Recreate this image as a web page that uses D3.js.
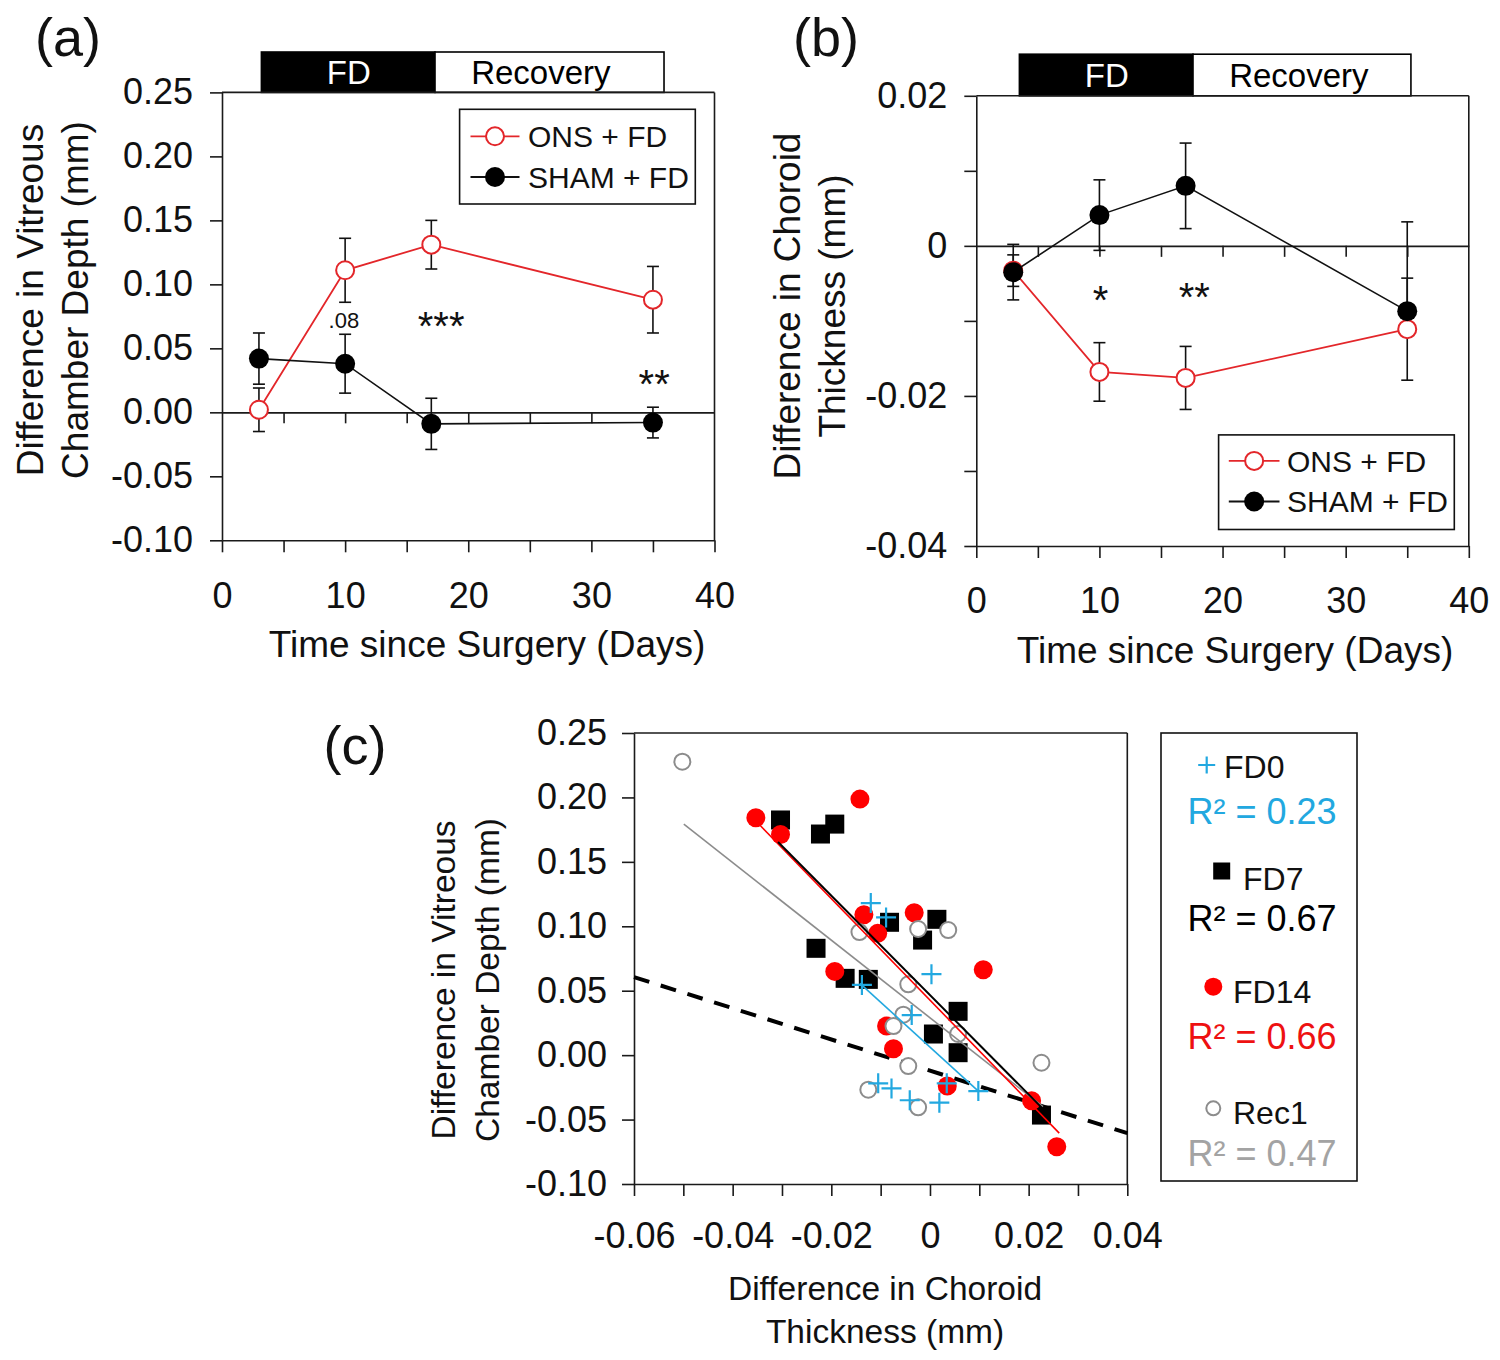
<!DOCTYPE html>
<html><head><meta charset="utf-8">
<script src="https://cdn.jsdelivr.net/npm/d3@7"></script>
<style>body{margin:0;background:#fff}svg{display:block}text{font-family:'Liberation Sans',Arial,Helvetica,sans-serif}</style>
</head><body><svg id="chart" width="1500" height="1360"></svg>
<script>
// ---------------- DATA ----------------
const days = [3, 10, 17, 35];
// (a) vitreous chamber depth difference (mm)
const vcdOns = [0.002, 0.111, 0.131, 0.088];
const vcdOnsErr = [0.017, 0.025, 0.019, 0.026];
const vcdSham = [0.042, 0.038, -0.009, -0.008];
const vcdShamErr = [0.020, 0.023, 0.020, 0.012];
// (b) choroid thickness difference (mm)
const chOns = [-0.0033, -0.0168, -0.0176, -0.0111];
const chOnsErr = [0.0021, 0.0039, 0.0042, 0.0068];
const chSham = [-0.0035, 0.0041, 0.0080, -0.0087];
const chShamErrUp = [0.0037, 0.0047, 0.0057, 0.0119];
const chShamErrDown = [0.0037, 0.0047, 0.0057, 0];

const seriesNames = ["ONS + FD", "SHAM + FD"];
const phasesA = [{label: "FD", start: 3.2, end: 17.3, textAt: 10.3}, {label: "Recovery", start: 17.3, end: 35.9, textAt: 25.9}];
const phasesB = [{label: "FD", start: 3.5, end: 17.6, textAt: 10.6}, {label: "Recovery", start: 17.6, end: 35.3, textAt: 26.2}];
const annotA = [{text: ".08", day: 9.9, value: 0.072, small: true}, {text: "***", day: 17.8, value: 0.074}, {text: "**", day: 35.1, value: 0.029}];
const annotB = [{text: "*", day: 10.1, value: -0.0060}, {text: "**", day: 17.7, value: -0.0056}];

const timeTicks = [0, 5, 10, 15, 20, 25, 30, 35, 40];
const timeTickLabels = ["0", "", "10", "", "20", "", "30", "", "40"];
const zeroLineTicks = [5, 10, 15, 20, 25, 30, 35];
const vcdTicks = [-0.10, -0.05, 0.00, 0.05, 0.10, 0.15, 0.20, 0.25];
const vcdTickLabels = ["-0.10", "-0.05", "0.00", "0.05", "0.10", "0.15", "0.20", "0.25"];
const chTicks = [-0.04, -0.03, -0.02, -0.01, 0, 0.01, 0.02];
const chTickLabels = ["-0.04", "", "-0.02", "", "0", "", "0.02"];
const chTicksC = [-0.06, -0.05, -0.04, -0.03, -0.02, -0.01, 0, 0.01, 0.02, 0.03, 0.04];
const chTickLabelsC = ["-0.06", "", "-0.04", "", "-0.02", "", "0", "", "0.02", "", "0.04"];

// (c) scatter: [choroid difference, VCD difference]
const fd0Points = [[-0.0120, 0.1180], [-0.0089, 0.1069], [0.0003, 0.0628], [-0.0138, 0.0545], [-0.0037, 0.0311], [-0.0105, -0.0219], [-0.0078, -0.0258], [0.0034, -0.0219], [-0.0041, -0.0350], [0.0019, -0.0369], [0.0098, -0.0279]];
const fd7Points = [[-0.0303, 0.1825], [-0.0222, 0.1716], [-0.0193, 0.1793], [-0.0082, 0.1031], [0.0014, 0.1054], [-0.0015, 0.0893], [-0.0231, 0.0829], [-0.0172, 0.0596], [-0.0125, 0.0588], [0.0057, 0.0340], [0.0007, 0.0164], [0.0057, 0.0019], [0.0226, -0.0465]];
const fd14Points = [[-0.0353, 0.1842], [-0.0303, 0.1713], [-0.0142, 0.1987], [-0.0134, 0.1090], [-0.0106, 0.0945], [-0.0032, 0.1105], [-0.0193, 0.0650], [0.0108, 0.0663], [-0.0088, 0.0226], [-0.0074, 0.0050], [0.0035, -0.0240], [0.0206, -0.0354], [0.0257, -0.0711]];
const rec1Points = [[-0.0502, 0.2277], [-0.0143, 0.0955], [-0.0024, 0.0979], [0.0037, 0.0971], [-0.0044, 0.0550], [-0.0054, 0.0314], [-0.0074, 0.0226], [0.0057, 0.0164], [-0.0044, -0.0085], [0.0226, -0.0059], [-0.0125, -0.0268], [-0.0024, -0.0405]];
const fitLines = [
  {group: "Rec1", x0: -0.0499, y0: 0.1793, x1: 0.0229, y1: -0.0400},
  {group: "FD0", x0: -0.0142, y0: 0.0557, x1: 0.0098, y1: -0.0279},
  {group: "FD14", x0: -0.0353, y0: 0.1817, x1: 0.0262, y1: -0.0605},
  {group: "FD7", x0: -0.0308, y0: 0.1654, x1: 0.0227, y1: -0.0409}
];
const refLine = {x0: -0.06, y0: 0.0606, x1: 0.04, y1: -0.0605};
const groupNames = ["FD0", "FD7", "FD14", "Rec1"];
const groupR2 = ["R\u00b2 = 0.23", "R\u00b2 = 0.67", "R\u00b2 = 0.66", "R\u00b2 = 0.47"];

// ---------------- STYLE ----------------
const AX = "#1a1a1a";
const RED = "#e3262a";
const CYAN = "#22a8e0";
const GRAY = "#8c8c8c";
const groupColor = {FD0: CYAN, FD7: "#000", FD14: "#ff0000", Rec1: GRAY};
const r2Color = [CYAN, "#000", "#ee1111", "#a3a3a3"];

const svg = d3.select("#chart");
svg.append("rect").attr("width", 1500).attr("height", 1360).attr("fill", "#fff");

function styleAxis(g, fs) {
  g.selectAll("path,line").attr("stroke", AX).attr("stroke-width", 1.6);
  g.selectAll("text").attr("fill", "#111").style("font-size", (fs || 36) + "px");
}
function vTitle(lines, xs, cy, fs) {
  lines.forEach((t, i) => {
    svg.append("text").attr("transform", `translate(${xs[i] + 0.358 * fs},${cy}) rotate(-90)`)
      .attr("text-anchor", "middle").style("font-size", fs + "px").attr("fill", "#111").text(t);
  });
}
function hText(t, x, cy, fs, anchor, color) {
  return svg.append("text").attr("x", x).attr("y", cy + 0.358 * fs).attr("text-anchor", anchor || "middle")
    .style("font-size", fs + "px").attr("fill", color || "#111").text(t);
}

// ---------------- TIME PANELS ----------------
function timePanel(cfg) {
  const x = d3.scaleLinear().domain([0, 40]).range([cfg.left, cfg.right]);
  const y = d3.scaleLinear().domain(cfg.yDomain).range([cfg.bottom, cfg.top]);
  const g = svg.append("g");

  cfg.phases.forEach((p, i) => {
    g.append("rect").attr("x", x(p.start)).attr("y", cfg.barTop).attr("width", x(p.end) - x(p.start))
      .attr("height", cfg.top - cfg.barTop).attr("fill", i === 0 ? "#000" : "#fff").attr("stroke", "#000").attr("stroke-width", 1.6);
    g.append("text").attr("x", x(p.textAt)).attr("y", (cfg.barTop + cfg.top) / 2 + 0.358 * 33)
      .attr("text-anchor", "middle").attr("fill", i === 0 ? "#fff" : "#000").style("font-size", "33px").text(p.label);
  });

  g.append("line").attr("x1", cfg.left).attr("x2", cfg.right).attr("y1", cfg.top).attr("y2", cfg.top).attr("stroke", AX).attr("stroke-width", 1.6);
  g.append("line").attr("x1", cfg.right).attr("x2", cfg.right).attr("y1", cfg.top).attr("y2", cfg.bottom).attr("stroke", AX).attr("stroke-width", 1.6);

  g.append("g").attr("transform", `translate(${cfg.left},0)`)
    .call(d3.axisLeft(y).tickValues(cfg.yTicks).tickFormat((d, i) => cfg.yLabels[i]).tickSize(12).tickPadding(17).tickSizeOuter(0))
    .call(styleAxis);
  g.append("g").attr("transform", `translate(0,${cfg.bottom})`)
    .call(d3.axisBottom(x).tickValues(timeTicks).tickFormat((d, i) => timeTickLabels[i]).tickSize(12).tickPadding(cfg.xPad).tickSizeOuter(0))
    .call(styleAxis);
  g.append("g").attr("transform", `translate(0,${y(0)})`)
    .call(d3.axisBottom(x).tickValues(zeroLineTicks).tickFormat("").tickSize(11).tickSizeOuter(0))
    .call(styleAxis);

  const cap = 6;
  function errBars(vals, up, down) {
    vals.forEach((v, i) => {
      const cx = x(days[i]);
      const yt = y(v + up[i]), yb = y(v - down[i]);
      g.append("line").attr("x1", cx).attr("x2", cx).attr("y1", yt).attr("y2", yb).attr("stroke", "#111").attr("stroke-width", 1.6);
      if (up[i] > 0) g.append("line").attr("x1", cx - cap).attr("x2", cx + cap).attr("y1", yt).attr("y2", yt).attr("stroke", "#111").attr("stroke-width", 1.6);
      if (down[i] > 0) g.append("line").attr("x1", cx - cap).attr("x2", cx + cap).attr("y1", yb).attr("y2", yb).attr("stroke", "#111").attr("stroke-width", 1.6);
    });
  }
  errBars(cfg.ons, cfg.onsErr, cfg.onsErr);
  errBars(cfg.sham, cfg.shamUp, cfg.shamDown);

  const line = d3.line().x((d, i) => x(days[i])).y(d => y(d));
  g.append("path").datum(cfg.ons).attr("d", line).attr("fill", "none").attr("stroke", RED).attr("stroke-width", 1.8);
  g.selectAll(null).data(cfg.ons).enter().append("circle").attr("cx", (d, i) => x(days[i])).attr("cy", d => y(d))
    .attr("r", 9).attr("fill", "#fff").attr("stroke", RED).attr("stroke-width", 2);
  g.append("path").datum(cfg.sham).attr("d", line).attr("fill", "none").attr("stroke", "#111").attr("stroke-width", 1.6);
  g.selectAll(null).data(cfg.sham).enter().append("circle").attr("cx", (d, i) => x(days[i])).attr("cy", d => y(d))
    .attr("r", 10).attr("fill", "#000");

  cfg.annot.forEach(a => {
    if (a.small) {
      g.append("text").attr("x", x(a.day)).attr("y", y(a.value) + 0.358 * 22).attr("text-anchor", "middle").style("font-size", "22px").attr("fill", "#111").text(a.text);
    } else {
      g.append("text").attr("x", x(a.day)).attr("y", y(a.value) + 0.57 * 40).attr("text-anchor", "middle").style("font-size", "40px").attr("fill", "#111").text(a.text);
    }
  });

  const L = cfg.legend;
  g.append("rect").attr("x", L.x0).attr("y", L.y0).attr("width", L.x1 - L.x0).attr("height", L.y1 - L.y0)
    .attr("fill", "#fff").attr("stroke", "#111").attr("stroke-width", 1.6);
  seriesNames.forEach((name, i) => {
    const ry = L.rows[i];
    g.append("line").attr("x1", L.lx0).attr("x2", L.lx1).attr("y1", ry).attr("y2", ry).attr("stroke", i === 0 ? RED : "#111").attr("stroke-width", 1.8);
    if (i === 0) g.append("circle").attr("cx", (L.lx0 + L.lx1) / 2).attr("cy", ry).attr("r", 9).attr("fill", "#fff").attr("stroke", RED).attr("stroke-width", 2);
    else g.append("circle").attr("cx", (L.lx0 + L.lx1) / 2).attr("cy", ry).attr("r", 10).attr("fill", "#000");
    g.append("text").attr("x", L.tx).attr("y", ry + 0.358 * 30).style("font-size", "30px").attr("fill", "#111").text(name);
  });
}

timePanel({
  left: 222, right: 714.5, top: 92.4, bottom: 540.3, barTop: 52, xPad: 30,
  yDomain: [-0.10, 0.25], yTicks: vcdTicks, yLabels: vcdTickLabels,
  phases: phasesA, ons: vcdOns, onsErr: vcdOnsErr, sham: vcdSham, shamUp: vcdShamErr, shamDown: vcdShamErr,
  annot: annotA,
  legend: {x0: 459.6, y0: 109.3, x1: 695.3, y1: 204, rows: [136.3, 177], lx0: 470.5, lx1: 519.5, tx: 528}
});
timePanel({
  left: 976.3, right: 1468.8, top: 95.8, bottom: 546, barTop: 54.2, xPad: 29,
  yDomain: [-0.04, 0.02], yTicks: chTicks, yLabels: chTickLabels,
  phases: phasesB, ons: chOns, onsErr: chOnsErr, sham: chSham, shamUp: chShamErrUp, shamDown: chShamErrDown,
  annot: annotB,
  legend: {x0: 1218.6, y0: 434.9, x1: 1454.3, y1: 529.5, rows: [460.9, 501.5], lx0: 1228.8, lx1: 1279.5, tx: 1287}
});

hText("(a)", 68, 37, 54);
hText("(b)", 826, 37, 54);
hText("Time since Surgery (Days)", 487, 644, 37);
hText("Time since Surgery (Days)", 1235, 650, 37);
vTitle(["Difference in Vitreous", "Chamber Depth (mm)"], [30, 75], 300, 37);
vTitle(["Difference in Choroid", "Thickness (mm)"], [787, 832], 306, 37);

// ---------------- PANEL C ----------------
(function () {
  const left = 634, right = 1127.3, top = 733, bottom = 1184;
  const x = d3.scaleLinear().domain([-0.06, 0.04]).range([left, right]);
  const y = d3.scaleLinear().domain([-0.10, 0.25]).range([bottom, top]);
  const g = svg.append("g");

  g.append("line").attr("x1", left).attr("x2", right).attr("y1", top).attr("y2", top).attr("stroke", AX).attr("stroke-width", 1.6);
  g.append("line").attr("x1", right).attr("x2", right).attr("y1", top).attr("y2", bottom).attr("stroke", AX).attr("stroke-width", 1.6);
  g.append("g").attr("transform", `translate(${left},0)`)
    .call(d3.axisLeft(y).tickValues(vcdTicks).tickFormat((d, i) => vcdTickLabels[i]).tickSize(12).tickPadding(15).tickSizeOuter(0))
    .call(styleAxis);
  g.append("g").attr("transform", `translate(0,${bottom})`)
    .call(d3.axisBottom(x).tickValues(chTicksC).tickFormat((d, i) => chTickLabelsC[i]).tickSize(12).tickPadding(26).tickSizeOuter(0))
    .call(styleAxis);

  g.append("line").attr("x1", x(refLine.x0)).attr("y1", y(refLine.y0)).attr("x2", x(refLine.x1)).attr("y2", y(refLine.y1))
    .attr("stroke", "#000").attr("stroke-width", 4).attr("stroke-dasharray", "16,12");

  g.selectAll(null).data(fd7Points).enter().append("rect")
    .attr("x", d => x(d[0]) - 9.5).attr("y", d => y(d[1]) - 9.5).attr("width", 19).attr("height", 19).attr("fill", "#000");
  g.selectAll(null).data(fd14Points).enter().append("circle")
    .attr("cx", d => x(d[0])).attr("cy", d => y(d[1])).attr("r", 9.5).attr("fill", "#ff0000");
  g.selectAll(null).data(rec1Points).enter().append("circle")
    .attr("cx", d => x(d[0])).attr("cy", d => y(d[1])).attr("r", 8).attr("fill", "#fff").attr("stroke", GRAY).attr("stroke-width", 2);
  const plus = (sel, s) => sel.attr("d", d => `M${x(d[0]) - s},${y(d[1])}H${x(d[0]) + s}M${x(d[0])},${y(d[1]) - s}V${y(d[1]) + s}`)
    .attr("stroke", CYAN).attr("stroke-width", 2.2).attr("fill", "none");
  plus(g.selectAll(null).data(fd0Points).enter().append("path"), 10);

  fitLines.forEach(f => {
    g.append("line").attr("x1", x(f.x0)).attr("y1", y(f.y0)).attr("x2", x(f.x1)).attr("y2", y(f.y1))
      .attr("stroke", groupColor[f.group]).attr("stroke-width", f.group === "FD7" ? 2 : 1.6);
  });

  // legend
  g.append("rect").attr("x", 1161).attr("y", 733).attr("width", 196).attr("height", 448)
    .attr("fill", "#fff").attr("stroke", "#111").attr("stroke-width", 1.6);
  const rows = [
    {mx: 1206.7, my: 765, tx: 1224, ty: 767, ry: 811},
    {mx: 1221.7, my: 871, tx: 1243, ty: 879, ry: 918},
    {mx: 1213.3, my: 986.7, tx: 1233, ty: 992, ry: 1036},
    {mx: 1213.3, my: 1108.3, tx: 1233, ty: 1113, ry: 1153}
  ];
  groupNames.forEach((name, i) => {
    const r = rows[i];
    if (name === "FD0") plus(g.append("path").datum([x.invert(r.mx), y.invert(r.my)]), 8.5);
    else if (name === "FD7") g.append("rect").attr("x", r.mx - 8.5).attr("y", r.my - 8.5).attr("width", 17).attr("height", 17).attr("fill", "#000");
    else if (name === "FD14") g.append("circle").attr("cx", r.mx).attr("cy", r.my).attr("r", 9).attr("fill", "#ff0000");
    else g.append("circle").attr("cx", r.mx).attr("cy", r.my).attr("r", 7).attr("fill", "#fff").attr("stroke", GRAY).attr("stroke-width", 2);
    hText(name, r.tx, r.ty, 32, "start", "#111");
    hText(groupR2[i], 1262, r.ry, 36, "middle", r2Color[i]);
  });
})();

hText("(c)", 355, 745, 54);
hText("Difference in Choroid", 885, 1288, 33.5);
hText("Thickness (mm)", 885, 1331, 33.5);
vTitle(["Difference in Vitreous", "Chamber Depth (mm)"], [443, 487], 980, 33.5);
</script></body></html>
